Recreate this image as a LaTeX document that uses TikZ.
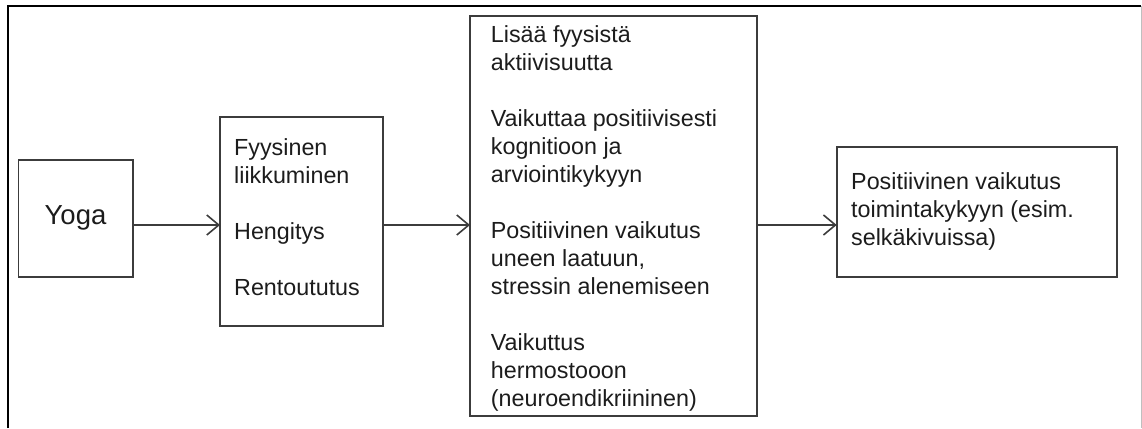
\documentclass[tikz,border=0pt]{standalone}
\usepackage{fontspec}
\setmainfont{Liberation Sans}
\usetikzlibrary{arrows.meta}
\definecolor{boxc}{HTML}{3C3C3C}
\definecolor{txtc}{HTML}{1C1C1C}
\newcommand\firststrut{\rule{0pt}{20pt}}
\begin{document}
\begin{tikzpicture}[x=1pt,y=-1pt,
  box/.style={draw=boxc, line width=1.6pt, rectangle, inner sep=0pt, outer sep=0pt, anchor=north west},
  txtblock/.style={anchor=north west, inner sep=0pt, align=left, text=txtc, font=\fontsize{23.3}{28}\selectfont},
  arr/.style={draw=boxc, line width=1.6pt, -{Straight Barb[length=12pt,width=20pt,line width=1.6pt]}}]
\useasboundingbox (0,0) rectangle (1142,428);
% outer frame
\draw[black, line width=1.4pt] (8,428) -- (8,6) -- (1141.3,6);
\draw[black!25, line width=1.3pt] (1141.3,6) -- (1141.3,428);
% boxes
\node[box, minimum width=114.4pt, minimum height=116.7pt, text=txtc, font=\fontsize{27.5}{33}\selectfont] (yoga) at (18.3,160) {Yoga};
\node[box, minimum width=162.7pt, minimum height=209.3pt] (b2) at (220,116.7) {};
\node[box, minimum width=286.7pt, minimum height=400pt] (b3) at (470,16) {};
\node[box, minimum width=280pt, minimum height=130pt] (b4) at (836.7,146.7) {};
% texts
\node[txtblock] (t2) at (234,135) {\firststrut Fyysinen\\liikkuminen\\[28pt]Hengitys\\[28pt]Rentoututus};
\node[txtblock] (t3) at (490.7,22) {\firststrut Lisää fyysistä\\aktiivisuutta\\[28pt]Vaikuttaa positiivisesti\\kognitioon ja\\arviointikykyyn\\[28pt]Positiivinen vaikutus\\uneen laatuun,\\stressin alenemiseen\\[28pt]Vaikuttus\\hermostooon\\(neuroendikriininen)};
\node[txtblock] (t4) at (851,169.5) {\firststrut Positiivinen vaikutus\\toimintakykyyn (esim.\\selkäkivuissa)};
% connectors
\coordinate (ax) at (0,225);
\draw[arr] (yoga.east |- ax) -- (b2.west |- ax);
\draw[arr] (b2.east |- ax) -- (b3.west |- ax);
\draw[arr] (b3.east |- ax) -- (b4.west |- ax);
\end{tikzpicture}
\end{document}
